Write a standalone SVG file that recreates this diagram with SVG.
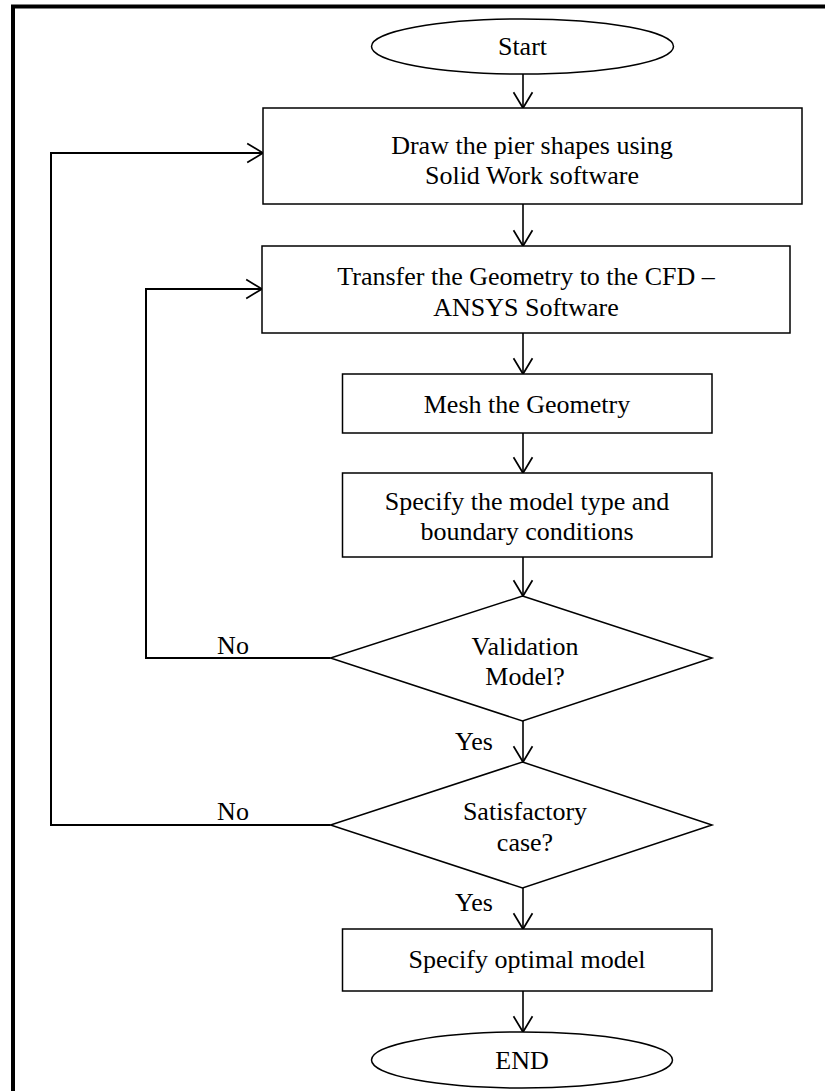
<svg xmlns="http://www.w3.org/2000/svg" width="825" height="1091" viewBox="0 0 825 1091">
<style>
.shape{fill:#fff;stroke:#000;stroke-width:1.5}
.t{font-family:"Liberation Serif","Times New Roman",serif;font-size:26px;fill:#000;text-anchor:middle}
.c{fill:none;stroke:#000;stroke-width:1.6}
.fb{fill:none;stroke:#000;stroke-width:2}
</style>
<defs>
<marker id="ah" markerUnits="userSpaceOnUse" markerWidth="20" markerHeight="24" viewBox="-17 -11 19 22" refX="0" refY="0" orient="auto">
<path d="M-15,-9 L0,0 L-15,9" fill="none" stroke="#000" stroke-width="1.6"/>
</marker>
</defs>
<rect width="825" height="1091" fill="#fff"/>
<path d="M13,1091 L13,6.5 L825,6.5" fill="none" stroke="#000" stroke-width="4"/>
<g id="connectors">
<line class="c" x1="523" y1="73" x2="523" y2="108" marker-end="url(#ah)"/>
<line class="c" x1="523" y1="204" x2="523" y2="246" marker-end="url(#ah)"/>
<line class="c" x1="523" y1="333" x2="523" y2="374" marker-end="url(#ah)"/>
<line class="c" x1="523" y1="433" x2="523" y2="473" marker-end="url(#ah)"/>
<line class="c" x1="523" y1="557" x2="523" y2="596" marker-end="url(#ah)"/>
<line class="c" x1="523" y1="721" x2="523" y2="762" marker-end="url(#ah)"/>
<line class="c" x1="523" y1="888" x2="523" y2="929" marker-end="url(#ah)"/>
<line class="c" x1="523" y1="991" x2="523" y2="1032" marker-end="url(#ah)"/>
<polyline class="fb" points="330.5,658 146,658 146,289 262,289" marker-end="url(#ah)"/>
<polyline class="fb" points="330.5,825 51,825 51,153 263,153" marker-end="url(#ah)"/>
<text class="t" x="233" y="654">No</text>
<text class="t" x="233" y="820">No</text>
<text class="t" x="474" y="750">Yes</text>
<text class="t" x="474" y="911">Yes</text>
</g>
<g id="start">
<ellipse class="shape" cx="522.5" cy="46.5" rx="151" ry="27.5"/>
<text class="t" x="522.5" y="55">Start</text>
</g>
<g id="draw">
<rect class="shape" x="263" y="108" width="539" height="96"/>
<text class="t" x="532" y="154">Draw the pier shapes using</text>
<text class="t" x="532" y="184">Solid Work software</text>
</g>
<g id="transfer">
<rect class="shape" x="262" y="246" width="528" height="87"/>
<text class="t" x="526" y="285">Transfer the Geometry to the CFD –</text>
<text class="t" x="526" y="316">ANSYS Software</text>
</g>
<g id="mesh">
<rect class="shape" x="342.5" y="374" width="369.5" height="59"/>
<text class="t" x="527" y="413">Mesh the Geometry</text>
</g>
<g id="specify">
<rect class="shape" x="342.5" y="473" width="369.5" height="84"/>
<text class="t" x="527" y="510">Specify the model type and</text>
<text class="t" x="527" y="540">boundary conditions</text>
</g>
<g id="validation">
<polygon class="shape" points="522.5,596 712,658 522.5,721 330.5,658"/>
<text class="t" x="525" y="655">Validation</text>
<text class="t" x="525" y="685">Model?</text>
</g>
<g id="satisfactory">
<polygon class="shape" points="522.5,762 712,825 522.5,888 330.5,825"/>
<text class="t" x="525" y="820">Satisfactory</text>
<text class="t" x="525" y="851">case?</text>
</g>
<g id="optimal">
<rect class="shape" x="342.5" y="929" width="369.5" height="62"/>
<text class="t" x="527" y="968">Specify optimal model</text>
</g>
<g id="end">
<ellipse class="shape" cx="522" cy="1060" rx="150.5" ry="28"/>
<text class="t" x="522" y="1069">END</text>
</g>
</svg>
